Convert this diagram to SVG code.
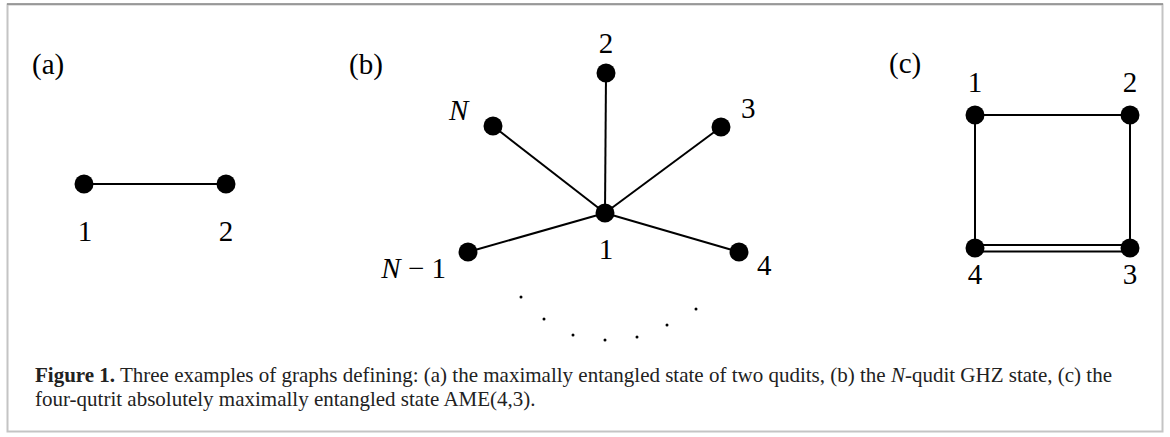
<svg xmlns="http://www.w3.org/2000/svg" width="1170" height="437" viewBox="0 0 1170 437">
<style>
.lbl{font-family:"Liberation Serif","DejaVu Serif",serif;font-size:29px;fill:#000}
.it{font-style:italic}
.edge{stroke:#000;stroke-width:2;fill:none}
.node{fill:#000}
.cap{font-family:"Liberation Serif","DejaVu Serif",serif;font-size:21px;fill:#222}
</style>
<rect x="0" y="0" width="1170" height="437" fill="#fff"/>
<rect x="7.5" y="4.5" width="1155" height="427" fill="none" stroke="#c4c4c4" stroke-width="2"/>
<line x1="7" y1="4" x2="1163" y2="4" stroke="#8a8a8a" stroke-width="1.5"/>
<g id="connectors">
<line class="edge" x1="84" y1="184" x2="226" y2="184"/>
<line class="edge" x1="605" y1="213" x2="606" y2="73"/>
<line class="edge" x1="605" y1="213" x2="493" y2="126"/>
<line class="edge" x1="605" y1="213" x2="721" y2="127"/>
<line class="edge" x1="605" y1="213" x2="468" y2="252"/>
<line class="edge" x1="605" y1="213" x2="739" y2="252"/>
<line class="edge" x1="975" y1="115" x2="1130" y2="115"/>
<line class="edge" x1="975" y1="115" x2="975" y2="248"/>
<line class="edge" x1="1130" y1="115" x2="1130" y2="248"/>
<line class="edge" x1="975" y1="245" x2="1130" y2="245"/>
<line class="edge" x1="975" y1="251.5" x2="1130" y2="251.5"/>
</g>
<text class="lbl" x="32" y="74">(a)</text>
<text class="lbl" x="349" y="74">(b)</text>
<text class="lbl" x="889" y="73">(c)</text>
<g id="a1"><circle class="node" cx="84" cy="184" r="9.5"/><text class="lbl" x="85" y="241" text-anchor="middle">1</text></g>
<g id="a2"><circle class="node" cx="226" cy="184" r="9.5"/><text class="lbl" x="226" y="241" text-anchor="middle">2</text></g>
<g id="b1"><circle class="node" cx="605" cy="213" r="9.5"/><text class="lbl" x="606" y="259" text-anchor="middle">1</text></g>
<g id="b2"><circle class="node" cx="606" cy="73" r="9.5"/><text class="lbl" x="606" y="53" text-anchor="middle">2</text></g>
<g id="b3"><circle class="node" cx="721" cy="127" r="9.5"/><text class="lbl" x="741" y="118">3</text></g>
<g id="b4"><circle class="node" cx="739" cy="252" r="9.5"/><text class="lbl" x="757" y="275">4</text></g>
<g id="bN"><circle class="node" cx="493" cy="126" r="9.5"/><text class="lbl it" x="449" y="120">N</text></g>
<g id="bN1"><circle class="node" cx="468" cy="252" r="9.5"/><text class="lbl" x="446" y="278" text-anchor="end"><tspan class="it">N</tspan> − 1</text></g>
<g id="dots" fill="#000">
<circle cx="521" cy="297" r="1.5"/><circle cx="544" cy="319" r="1.5"/><circle cx="573" cy="335" r="1.5"/><circle cx="605" cy="340" r="1.5"/><circle cx="637" cy="337" r="1.5"/><circle cx="667" cy="325" r="1.5"/><circle cx="696" cy="309" r="1.5"/>
</g>
<g id="c1"><circle class="node" cx="975" cy="115" r="9.5"/><text class="lbl" x="975" y="92" text-anchor="middle">1</text></g>
<g id="c2"><circle class="node" cx="1130" cy="115" r="9.5"/><text class="lbl" x="1130" y="92" text-anchor="middle">2</text></g>
<g id="c3"><circle class="node" cx="1130" cy="248" r="9.5"/><text class="lbl" x="1130" y="284" text-anchor="middle">3</text></g>
<g id="c4"><circle class="node" cx="975" cy="248" r="9.5"/><text class="lbl" x="975" y="284" text-anchor="middle">4</text></g>
<text class="cap" x="35" y="382"><tspan font-weight="bold">Figure 1.</tspan> Three examples of graphs defining: (a) the maximally entangled state of two qudits, (b) the <tspan font-style="italic">N</tspan>-qudit GHZ state, (c) the</text>
<text class="cap" x="35" y="406">four-qutrit absolutely maximally entangled state AME(4,3).</text>
</svg>
